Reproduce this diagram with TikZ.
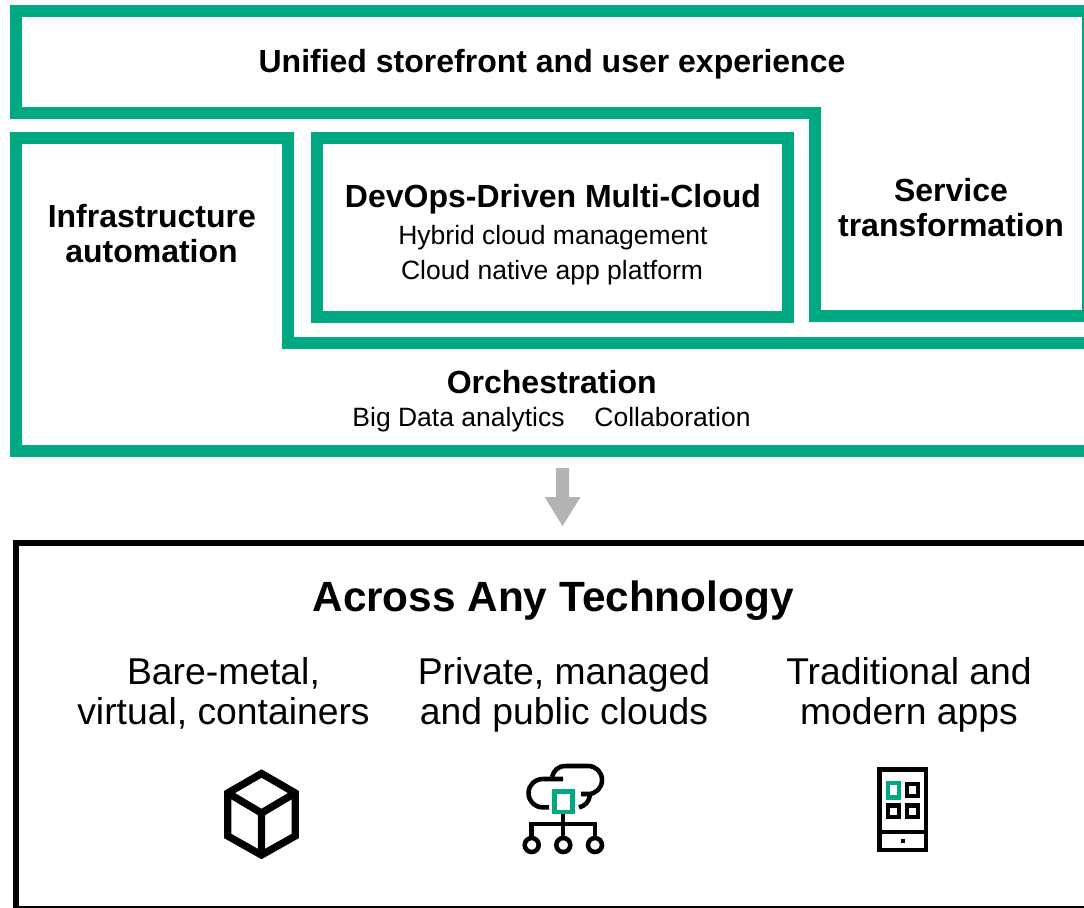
\documentclass[tikz,border=0pt]{standalone}
\usepackage{fontspec}
\setmainfont{Liberation Sans}
\definecolor{hpegreen}{HTML}{01A982}
\definecolor{arrowgray}{HTML}{B1B3B5}
\newcommand{\pxfont}[1]{\fontsize{\fpeval{#1*3/4}}{#1}\selectfont}
\tikzset{
  greenframe/.style={draw=hpegreen,line width=9pt,miter limit=10},
  blackframe/.style={draw=black,line width=4.1pt},
  icon/.style={draw=black,line width=5.5pt,line join=miter},
  iconthin/.style={draw=black,line width=3.4pt,line cap=butt},
  iconsquare/.style={draw=black,line width=3.2pt},
  label/.style={anchor=base,inner sep=0pt,outer sep=0pt,align=center},
}
\begin{document}
\begin{tikzpicture}[x=0.75pt,y=-0.75pt]
\useasboundingbox (0,0) rectangle (1084,907);
\fill[white] (0,0) rectangle (1084,907);
\clip (0,0) rectangle (1084,907);
% frames
\draw[greenframe] (15.5,11) -- (1088,11) -- (1088,316) -- (815,316) -- (815,112.7) -- (15.5,112.7) -- cycle;
\draw[greenframe] (15.5,137.7) -- (288.3,137.7) -- (288.3,342.7) -- (1092,342.7) -- (1092,450.7) -- (15.5,450.7) -- cycle;
\draw[greenframe] (317.3,137.7) rectangle (788.3,317.3);
% arrow
\fill[arrowgray] (556,468) -- (569,468) -- (569,497) -- (580.6,497) -- (562.5,526) -- (544.7,497) -- (556,497) -- cycle;
% black frame
\draw[blackframe] (16,543) -- (1095,543) -- (1095,909) -- (16,909) -- cycle;
% texts
\node[label,font=\bfseries\pxfont{32}] (unified) at (552,72) {Unified storefront and user experience};
\node[label,font=\bfseries\pxfont{32}] (infra1) at (151.8,227) {Infrastructure};
\node[label,font=\bfseries\pxfont{32}] (infra2) at (151.5,262) {automation};
\node[label,font=\bfseries\pxfont{32}] (devops) at (553,207) {DevOps-Driven Multi-Cloud};
\node[label,font=\pxfont{26.5}] (hybrid) at (553,244) {Hybrid cloud management};
\node[label,font=\pxfont{26.5}] (native) at (552,279) {Cloud native app platform};
\node[label,font=\bfseries\pxfont{32}] (service1) at (951,201) {Service};
\node[label,font=\bfseries\pxfont{32}] (service2) at (951,236) {transformation};
\node[label,font=\bfseries\pxfont{32}] (orch) at (551.7,393) {Orchestration};
\node[label,font=\pxfont{26.5}] (bigdata) at (458.5,426) {Big Data analytics};
\node[label,font=\pxfont{26.5}] (collab) at (672.5,426) {Collaboration};
\node[label,font=\bfseries\pxfont{42.3}] (across) at (553,611) {Across Any Technology};
\node[label,font=\pxfont{37.3}] (bare) at (223.5,684) {Bare-metal,};
\node[label,font=\pxfont{37.3}] (virt) at (223.5,724) {virtual, containers};
\node[label,font=\pxfont{37.3}] (priv) at (564,684) {Private, managed};
\node[label,font=\pxfont{37.3}] (pub) at (564,724) {and public clouds};
\node[label,font=\pxfont{37.3}] (trad) at (909,684) {Traditional and};
\node[label,font=\pxfont{37.3}] (modern) at (909,724) {modern apps};
% cube icon
\draw[icon] (261.5,773.5) -- (295.2,793) -- (295.2,836) -- (261.5,855) -- (227.8,836) -- (227.8,793) -- cycle;
\draw[icon] (227.8,793) -- (261.5,813) -- (295.2,793) (261.5,813) -- (261.5,855);
% cloud icon
\draw[iconthin] (563,779) -- (543,779) .. controls (535,779) and (528.5,785) .. (528.5,793) .. controls (528.5,801) and (535,807.4) .. (543,807.4) -- (549,807.4);
\draw[iconthin] (552,777) .. controls (554,770) and (558,766) .. (566,766) -- (588,766) .. controls (596,766) and (602,772) .. (602,780) .. controls (602,788) and (596,794) .. (588,794) -- (581,794);
\draw[iconthin] (590,795) .. controls (589,802) and (585,806) .. (579,807.4);
\draw[iconthin,line join=miter] (563,814) -- (563,836) (531.7,836) -- (531.7,824) -- (595,824) -- (595,836);
\draw[iconthin] (531.7,845) circle[radius=7] (563.3,845) circle[radius=7] (595,845) circle[radius=7];
\draw[draw=hpegreen,line width=3.5pt] (554.4,791.8) rectangle (572.2,812);
% phone icon
\draw[iconthin] (879.5,769.5) rectangle (926,850);
\draw[iconthin] (879.5,832) -- (926,832);
\fill[black] (900.5,838.5) rectangle (905,843);
\draw[draw=hpegreen,line width=3.2pt] (888.1,783.1) rectangle (899.2,797.6);
\draw[iconsquare] (907.1,783.8) rectangle (917.9,796.2);
\draw[iconsquare] (888.1,805.4) rectangle (899.2,817.2);
\draw[iconsquare] (907.1,805.4) rectangle (917.9,817.2);
\end{tikzpicture}
\end{document}
